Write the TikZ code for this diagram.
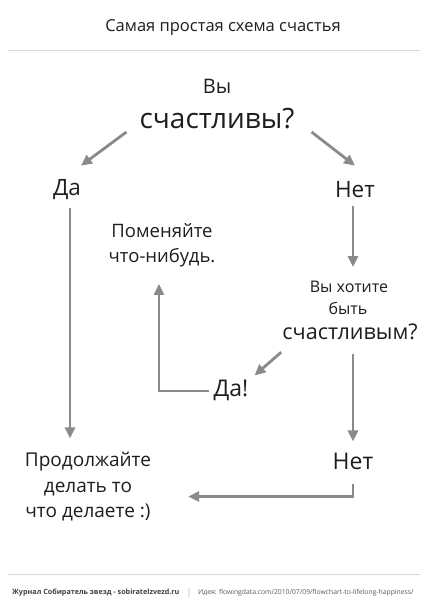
\documentclass[tikz,border=0pt]{standalone}
\usepackage{fontspec}
\setmainfont{Open Sans}
\usetikzlibrary{arrows.meta,calc}
\definecolor{ink}{HTML}{1E1E1E}
\definecolor{arrowgray}{HTML}{8A8A8A}
\definecolor{rulegray}{HTML}{D6D6D6}
\begin{document}
\begin{tikzpicture}[x=1pt,y=-1pt,
  txt/.style={inner sep=0pt, text=ink, align=center},
  arr/.style={draw=arrowgray, line width=2.8pt, -{Triangle[length=11pt,width=10pt]}},
  ln/.style={draw=arrowgray, line width=2.8pt},
  rule/.style={draw=rulegray, line width=1pt}]
\fill[white] (0,0) rectangle (427,604);
\useasboundingbox (0,0) rectangle (427,604);

% header and footer
\node[txt, font=\fontsize{16.5}{18}\selectfont] (title) at (223,28) {Самая простая схема счастья};
\coordinate (hl) at (8,51); \coordinate (hr) at (420,51);
\draw[rule] (hl) -- (hr);
\coordinate (fl) at (8,574); \coordinate (fr) at (420,574);
\draw[rule] (fl) -- (fr);
\node[txt, anchor=west, font=\fontsize{7.2}{8}\selectfont\bfseries, text=black!75] (src) at (12,593) {Журнал Собиратель звезд - sobiratelzvezd.ru};
\node[txt, anchor=center, font=\fontsize{9}{9}\selectfont, text=black!30] (sep) at (189,593) {|};
\node[txt, anchor=west, font=\fontsize{6.8}{8}\selectfont, text=black!65] (idea) at (198,593) {Идея: flowingdata.com/2010/07/09/flowchart-to-lifelong-happiness/};

% main question
\node[txt, font=\fontsize{20}{24}\selectfont] (q1) at (217,86) {Вы};
\node[txt, font=\fontsize{28}{30}\selectfont] (q2) at (217,119) {счастливы?};

\node[txt, font=\fontsize{22.5}{24}\selectfont] (yes1) at (67,190) {Да};
\node[txt, font=\fontsize{22.5}{24}\selectfont] (no1) at (355,190) {Нет};

\node[txt, font=\fontsize{16}{18}\selectfont] (w1) at (349,287) {Вы хотите};
\node[txt, font=\fontsize{16}{18}\selectfont] (w2) at (348,308) {быть};
\node[txt, font=\fontsize{21.6}{24}\selectfont] (w3) at (350,332) {счастливым?};

\node[txt, font=\fontsize{23}{24}\selectfont] (yes2) at (231,390) {Да!};
\node[txt, font=\fontsize{18.5}{25}\selectfont] (change) at (162,245) {Поменяйте\\что-нибудь.};

\node[txt, font=\fontsize{23}{24}\selectfont] (no2) at (353,461) {Нет};
\node[txt, font=\fontsize{19}{25.5}\selectfont] (cont) at (88,487) {Продолжайте\\делать то\\что делаете :)};

% connectors
\draw[arr] ($(q2.west)+(-13,13)$) -- ($(yes1.north)+(14,-14)$);
\draw[arr] ($(q2.east)+(17,13)$) -- ($(no1.north)+(0,-16)$);
\draw[arr] ($(yes1.south)+(3,8)$) -- ($(cont.north)+(-18,-14)$);
\draw[arr] ($(no1.south)+(-2,8)$) -- ($(w1.north)+(4,-14)$);
\draw[arr] ($(w3.south west)+(-1,12)$) -- ($(yes2.north east)+(6,-4)$);
\coordinate (cs) at ($(change.south)+(-3,0)$);
\coordinate (ys) at ($(yes2.west)+(-4,1)$);
\coordinate (bend) at (cs |- ys);
\draw[ln] (ys) -- ($(bend)+(-1.4,0)$);
\draw[arr] ($(bend)+(0,1.4)$) -- ($(cs)+(0,17)$);
\draw[arr] ($(w3.south)+(3,14)$) -- ($(no2.north)+(0,-11)$);
\coordinate (bend2) at ($(no2.south)+(0,27)$);
\draw[ln] ($(no2.south)+(0,14)$) -- ($(bend2)+(0,1.4)$);
\draw[arr] (bend2) -- ($(cont.east |- bend2)+(37,0)$);
\end{tikzpicture}
\end{document}
